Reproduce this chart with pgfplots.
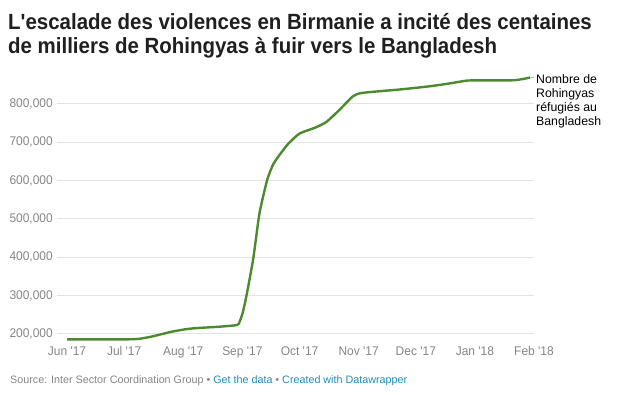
\documentclass[border=0pt]{standalone}
\usepackage{fontspec}
\setmainfont{Liberation Sans}
\newfontfamily\titlefont[FakeStretch=0.93]{Liberation Sans}
\newfontfamily\smallfont[FakeStretch=0.95]{Liberation Sans}
\usepackage{pgfplots}
\pgfplotsset{compat=1.18}
\definecolor{linegreen}{HTML}{4B8A2E}
\definecolor{ticklab}{HTML}{858585}
\definecolor{gridc}{HTML}{E3E3E3}
\definecolor{linkblue}{HTML}{1D8DBB}
\begin{document}
\begin{tikzpicture}
\path[use as bounding box] (0,0) rectangle (618bp,395bp);
\node[anchor=base west, inner sep=0pt, text=black!88] at (8bp,365.5bp) {\titlefont\fontsize{22bp}{24bp}\selectfont\bfseries L'escalade des violences en Birmanie a incité des centaines};
\node[anchor=base west, inner sep=0pt, text=black!88] at (8bp,341.5bp) {\titlefont\fontsize{22bp}{24bp}\selectfont\bfseries de milliers de Rohingyas à fuir vers le Bangladesh};
\begin{axis}[
  at={(57bp,51.4bp)}, anchor=south west,
  scale only axis, width=477bp, height=270.7bp,
  xmin=-5.25, xmax=245, ymin=175000, ymax=880000,
  clip=false,
  axis line style={draw=none},
  major tick length=0pt,
  scaled y ticks=false,
  xtick={0,30,61,92,122,153,183,214,245},
  xticklabels={Jun '17,Jul '17,Aug '17,Sep '17,Oct '17,Nov '17,Dec '17,Jan '18,Feb '18},
  ytick={200000,300000,400000,500000,600000,700000,800000},
  yticklabels={200{,}000,300{,}000,400{,}000,500{,}000,600{,}000,700{,}000,800{,}000},
  /pgf/number format/assume math mode=true,
  ymajorgrids,
  grid style={gridc, line width=1bp},
  tick label style={text=ticklab, font=\smallfont\fontsize{12.6bp}{14bp}\selectfont},
  yticklabel style={anchor=east, inner sep=0pt, xshift=-4bp},
  xticklabel style={anchor=north, inner sep=0pt, yshift=-3bp},
]
\addplot[linegreen, line width=2.4bp, smooth, tension=0.35] coordinates {
(0,186000) (30,186000) (38,187500) (45,194000) (55,206000) (63,213000) (70,216000)
(80,219000) (88,222500) (90,226000) (92,252000) (94,296000) (97.6,393000)
(101,515000) (105,601000) (108,640000) (111,663000) (116,695000) (122,722000)
(130,737000) (136,752000) (143,784000) (150,819000) (155,828000) (175,837000)
(190,845000) (200,852000) (210,860000) (220,860500) (235,861000) (243,868000)
};
\end{axis}
\draw[gray!60, line width=0.8bp] (531bp,318bp) -- (534bp,318bp);
\begin{scope}[every node/.style={anchor=base west, inner sep=0pt, text=black, font=\fontsize{12.3bp}{14bp}\selectfont}]
\node at (536bp,311bp) {Nombre de};
\node at (536bp,297bp) {Rohingyas};
\node at (536bp,283bp) {réfugiés au};
\node at (536bp,269bp) {Bangladesh};
\end{scope}
\node[anchor=base west, inner sep=0pt, font=\fontsize{10.75bp}{13bp}\selectfont] at (10bp,12bp)
 {\textcolor{ticklab}{Source: Inter Sector Coordination Group •} \textcolor{linkblue}{Get the data} \textcolor{ticklab}{•} \textcolor{linkblue}{Created with Datawrapper}};
\end{tikzpicture}
\end{document}
